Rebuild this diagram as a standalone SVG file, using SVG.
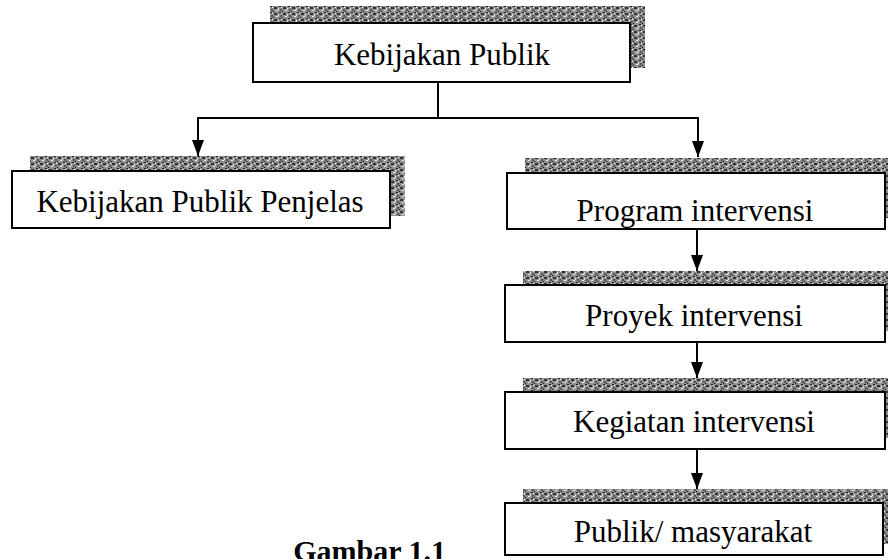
<svg xmlns="http://www.w3.org/2000/svg" width="888" height="559" viewBox="0 0 888 559">
  <defs>
    <pattern id="speck" width="9" height="6" patternUnits="userSpaceOnUse">
      <rect width="9" height="6" fill="#8f8f8f"/>
      <rect x="0" y="0" width="2" height="1" fill="#222"/>
      <rect x="4" y="1" width="3" height="2" fill="#333"/>
      <rect x="1" y="3" width="2" height="2" fill="#555"/>
      <rect x="6" y="4" width="2" height="1" fill="#eee"/>
      <rect x="3" y="5" width="1" height="1" fill="#111"/>
      <rect x="8" y="2" width="1" height="2" fill="#ddd"/>
      <rect x="2" y="1" width="1" height="1" fill="#fff"/>
    </pattern>
    <marker id="arrow" viewBox="0 0 16 12" refX="16" refY="6" markerWidth="16" markerHeight="12" markerUnits="userSpaceOnUse" orient="auto">
      <path d="M0,0 L16,6 L0,12 Z" fill="#000"/>
    </marker>
    <style>
      .shadow { fill: url(#speck); }
      .box { fill: #fff; stroke: #000; stroke-width: 2; }
      .label { font-family: "Liberation Serif", "Times New Roman", serif; font-size: 31px; fill: #000; text-anchor: middle; }
      .caption { font-family: "Liberation Serif", "Times New Roman", serif; font-size: 30px; font-weight: bold; fill: #000; }
      .conn { fill: none; stroke: #000; stroke-width: 2; }
    </style>
  </defs>

  <rect width="888" height="559" fill="#fff"/>

  <g id="connectors">
    <line class="conn" x1="438" y1="82" x2="438" y2="118"/>
    <line class="conn" x1="197" y1="118" x2="698" y2="118"/>
    <line class="conn" x1="198" y1="117" x2="198" y2="156" marker-end="url(#arrow)"/>
    <line class="conn" x1="698" y1="117" x2="698" y2="157" marker-end="url(#arrow)"/>
    <line class="conn" x1="697" y1="229" x2="697" y2="271" marker-end="url(#arrow)"/>
    <line class="conn" x1="697" y1="342" x2="697" y2="378" marker-end="url(#arrow)"/>
    <line class="conn" x1="697" y1="449" x2="697" y2="489" marker-end="url(#arrow)"/>
  </g>

  <g id="kebijakan-publik">
    <rect class="shadow" x="270" y="6" width="375" height="62"/>
    <rect class="box" x="253" y="23" width="377" height="59"/>
    <text class="label" x="442" y="65">Kebijakan Publik</text>
  </g>

  <g id="kebijakan-publik-penjelas">
    <rect class="shadow" x="30" y="156" width="375" height="60"/>
    <rect class="box" x="12" y="171" width="378" height="57"/>
    <text class="label" x="200" y="212">Kebijakan Publik Penjelas</text>
  </g>

  <g id="program-intervensi">
    <rect class="shadow" x="525" y="158" width="375" height="60"/>
    <rect class="box" x="507" y="173" width="378" height="56"/>
    <text class="label" x="695" y="221">Program intervensi</text>
  </g>

  <g id="proyek-intervensi">
    <rect class="shadow" x="523" y="271" width="377" height="60"/>
    <rect class="box" x="505" y="285" width="380" height="57"/>
    <text class="label" x="694" y="326">Proyek intervensi</text>
  </g>

  <g id="kegiatan-intervensi">
    <rect class="shadow" x="523" y="378" width="377" height="60"/>
    <rect class="box" x="505" y="392" width="380" height="57"/>
    <text class="label" x="694" y="432">Kegiatan intervensi</text>
  </g>

  <g id="publik-masyarakat">
    <rect class="shadow" x="523" y="489" width="377" height="55"/>
    <rect class="box" x="505" y="503" width="378" height="52"/>
    <text class="label" x="693" y="542">Publik/ masyarakat</text>
  </g>

  <text class="caption" x="446" y="561" text-anchor="end">Gambar 1.1</text>
</svg>
